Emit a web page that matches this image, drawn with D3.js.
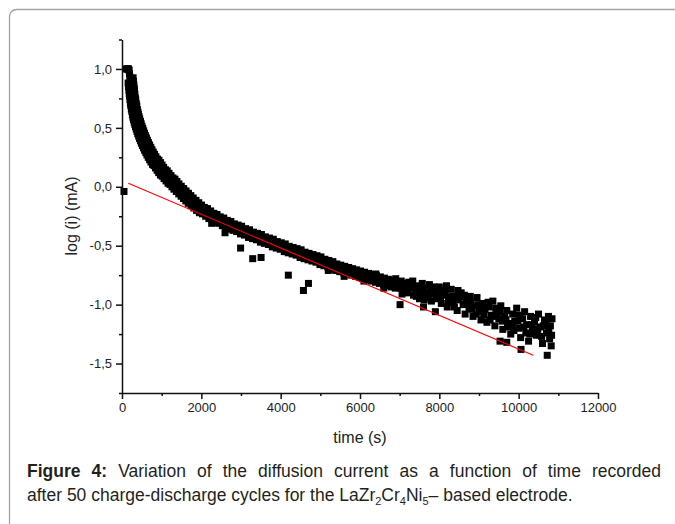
<!DOCTYPE html>
<html><head><meta charset="utf-8">
<script src="https://cdn.jsdelivr.net/npm/d3@7"></script>
<style>body{margin:0;background:#fff;} svg{display:block;font-family:"Liberation Sans",Arial,sans-serif;}</style>
</head><body>
<svg id="c" width="675" height="524"></svg>
<script>
// ---- tick labels ----
const xTicks = [0, 2000, 4000, 6000, 8000, 10000, 12000];
const xMinorTicks = [1000, 3000, 5000, 7000, 9000, 11000];
const yTicks = [-1.5, -1.0, -0.5, 0.0, 0.5, 1.0];
const yMinorTicks = [-1.75, -1.25, -0.75, -0.25, 0.25, 0.75, 1.25];
const xTitle = "time (s)";
const yTitle = "log (i) (mA)";

// ---- measured data: core band ----
const timeCore = [50,110,130,150,165,180,190,200,205,215,225,232,240,250,262,272,285,298,312,326,340,356,372,390,408,428,448,470,492,515,540,565,592,620,650,680,712,745,780,818,856,895,935,975,1020,1065,1110,1160,1210,1260,1310,1360,1420,1480,1540,1600,1660,1720,1790,1860,1930,2000,2080,2160,2240,2320,2400,2490,2580,2670,2760,2850,2940,3040,3140,3240,3340,3440,3540,3640,3740,3840,3940,4040,4140,4240,4340,4440,4540,4640,4740,4840,4940,5040,5140,5240,5340,5440,5540,5640,5740,5840,5940,6040,6140,6240,6340,6440,6540,6640,6740,6840,6940];
const logICore = [-0.04,1.00,1.00,1.00,1.00,0.99,0.96,0.93,0.90,0.87,0.84,0.81,0.79,0.76,0.73,0.71,0.68,0.66,0.63,0.61,0.59,0.57,0.55,0.53,0.51,0.49,0.47,0.45,0.43,0.41,0.39,0.37,0.35,0.33,0.31,0.29,0.27,0.25,0.23,0.21,0.20,0.18,0.16,0.14,0.12,0.11,0.09,0.07,0.05,0.04,0.02,0.00,-0.02,-0.04,-0.06,-0.08,-0.10,-0.12,-0.14,-0.16,-0.18,-0.20,-0.21,-0.23,-0.25,-0.26,-0.28,-0.29,-0.31,-0.32,-0.34,-0.35,-0.36,-0.38,-0.39,-0.41,-0.42,-0.43,-0.45,-0.46,-0.47,-0.49,-0.50,-0.51,-0.53,-0.54,-0.55,-0.56,-0.58,-0.59,-0.60,-0.61,-0.62,-0.64,-0.65,-0.66,-0.68,-0.69,-0.70,-0.71,-0.72,-0.73,-0.74,-0.75,-0.76,-0.77,-0.78,-0.79,-0.80,-0.81,-0.82,-0.83,-0.84];

// ---- band edge points ----
const timeEdge = [280,165,300,182,315,200,337,222,360,248,387,276,415,306,447,340,483,378,523,420,567,465,615,515,667,570,725,630,787,695,855,768,931,845,1010,925,1095,1015,1185,1110,1285,1210,1385,1310,1495,1430,1615,1550,1735,1670,1865,1810,2005,1950,2155,2110,2315,2270,2475,2440,2655,2620,2835,2800,3015,2990,3215,3190,3415,3390,3615,3590,3815,3790,4015,3990,4215,4190,4415,4390,4615,4590,4815,4790,5015,4990,5215,5190,5415,5390,5615,5590,5815,5790,6015,5990,6215,6190,6415,6390,6615,6590,6815,6790,7015];
const logIEdge = [0.925,0.85,0.865,0.79,0.815,0.74,0.755,0.69,0.705,0.64,0.655,0.59,0.615,0.55,0.575,0.51,0.535,0.47,0.495,0.43,0.455,0.39,0.415,0.35,0.375,0.31,0.335,0.27,0.295,0.23,0.255,0.19,0.225,0.16,0.185,0.12,0.145,0.09,0.115,0.05,0.075,0.02,0.045,-0.02,0.005,-0.06,-0.035,-0.10,-0.075,-0.14,-0.115,-0.18,-0.155,-0.22,-0.185,-0.25,-0.225,-0.28,-0.255,-0.31,-0.285,-0.34,-0.315,-0.37,-0.335,-0.40,-0.365,-0.43,-0.395,-0.45,-0.425,-0.48,-0.445,-0.51,-0.475,-0.53,-0.505,-0.56,-0.525,-0.58,-0.555,-0.61,-0.575,-0.63,-0.595,-0.66,-0.625,-0.68,-0.655,-0.71,-0.675,-0.73,-0.695,-0.75,-0.715,-0.77,-0.735,-0.79,-0.755,-0.81,-0.775,-0.83,-0.795,-0.85,-0.815];

// ---- second band edge [time, logI] ----
const edge2Points = [[155,0.88],[290,0.895],[175,0.82],[307,0.835],[190,0.77],[325,0.785],[212,0.71],[347,0.735],[235,0.66],[373,0.685],[262,0.61],[401,0.635],[290,0.57],[431,0.595],[322,0.53],[465,0.555],[358,0.49],[503,0.515],[398,0.45],[545,0.475],[442,0.41],[590,0.435],[490,0.37],[640,0.395],[542,0.33],[695,0.355],[600,0.29],[755,0.315],[662,0.25],[820,0.275],[730,0.21],[893,0.235],[806,0.18],[970,0.205],[885,0.14],[1050,0.165],[970,0.10],[1140,0.135],[1060,0.07],[1235,0.095],[1160,0.03],[1335,0.065],[1260,0.00],[1435,0.025],[1370,-0.04],[1555,-0.015],[1490,-0.08],[1675,-0.055],[1610,-0.12],[1795,-0.095],[1740,-0.16],[1935,-0.135],[1880,-0.20],[2075,-0.175],[2030,-0.23],[2235,-0.205],[2190,-0.27],[2395,-0.235],[2350,-0.30],[2565,-0.265],[2530,-0.33],[2745,-0.295],[2710,-0.36],[2925,-0.325],[2890,-0.38],[3115,-0.355],[3090,-0.41],[3315,-0.385],[3290,-0.44],[3515,-0.405],[3490,-0.47],[3715,-0.435],[3690,-0.49],[3915,-0.465],[3890,-0.52],[4115,-0.485],[4090,-0.55],[4315,-0.515],[4290,-0.57],[4515,-0.535],[4490,-0.60],[4715,-0.565],[4690,-0.62],[4915,-0.585],[4890,-0.64],[5115,-0.615],[5090,-0.67],[5315,-0.635],[5290,-0.70],[5515,-0.665],[5490,-0.72],[5715,-0.685],[5690,-0.74],[5915,-0.705],[5890,-0.76],[6115,-0.725],[6090,-0.78],[6315,-0.745],[6290,-0.80],[6515,-0.765],[6490,-0.82],[6715,-0.785],[6690,-0.84],[6915,-0.805],[6890,-0.86]];

// ---- noisy tail [time, logI] ----
const tailPoints = [[7000,-0.84],[7040,-0.80],[7080,-0.88],[7120,-0.85],[7160,-0.82],[7200,-0.90],[7250,-0.86],[7300,-0.83],[7350,-0.92],[7400,-0.87],[7450,-0.84],[7500,-0.95],[7550,-0.89],[7600,-0.86],[7650,-0.93],[7700,-0.90],[7750,-0.83],[7800,-0.97],[7850,-0.91],[7900,-0.88],[7950,-0.95],[8000,-0.85],[8050,-0.99],[8100,-0.92],[8150,-0.89],[8200,-1.02],[8250,-0.94],[8300,-0.87],[8350,-0.98],[8400,-0.93],[8450,-1.05],[8500,-0.96],[8550,-0.90],[8600,-1.00],[8650,-1.08],[8700,-0.95],[8750,-1.03],[8800,-0.98],[8850,-1.10],[8900,-1.01],[8950,-0.94],[9000,-1.06],[9050,-1.13],[9100,-0.99],[9150,-1.04],[9200,-1.15],[9250,-1.02],[9300,-1.09],[9350,-0.97],[9400,-1.18],[9450,-1.07],[9500,-1.12],[9550,-1.01],[9600,-1.21],[9650,-1.10],[9700,-1.05],[9750,-1.16],[9800,-1.25],[9850,-1.08],[9900,-1.14],[9950,-1.03],[10000,-1.20],[10050,-1.28],[10100,-1.12],[10150,-1.06],[10200,-1.17],[10250,-1.31],[10300,-1.10],[10350,-1.22],[10400,-1.15],[10450,-1.26],[10500,-1.08],[10550,-1.19],[10600,-1.33],[10650,-1.13],[10700,-1.24],[10750,-1.10],[10780,-1.29],[10800,-1.18],[10820,-1.35],[10840,-1.12],
[7020,-0.86],[7180,-0.88],[7330,-0.80],[7480,-0.90],[7620,-0.96],[7780,-0.88],[7920,-0.92],[8070,-0.88],[8230,-0.97],[8380,-1.02],[8520,-0.93],[8680,-0.98],[8820,-1.04],[8980,-1.00],[9120,-1.09],[9280,-1.13],[9420,-1.03],[9580,-1.14],[9720,-1.19],[9880,-1.22],[10020,-1.09],[10180,-1.24],[10330,-1.17],[10480,-1.21],[10620,-1.18],[10760,-1.22],
[7060,-0.91],[7230,-0.81],[7420,-0.93],[7570,-0.82],[7720,-0.94],[7870,-0.85],[8030,-0.94],[8180,-0.84],[8330,-0.93],[8470,-0.88],[8630,-0.92],[8780,-0.93],[8930,-1.08],[9080,-1.02],[9230,-0.98],[9380,-1.10],[9530,-1.06],[9680,-1.13],[9830,-1.18],[9980,-1.14],[10130,-1.19],[10280,-1.25],[10430,-1.11],[10580,-1.27],[10690,-1.16],[10830,-1.26]];

// ---- scattered points below band [time, logI] ----
const outlierPoints = [[2261,-0.31],[2597,-0.39],[2990,-0.52],[3295,-0.61],[3506,-0.60],[4193,-0.75],[4574,-0.88],[4700,-0.82],[5200,-0.71],[5600,-0.76],[6100,-0.80],[6400,-0.74],[6600,-0.86],[6900,-0.78],[7010,-1.00],[7600,-1.02],[7900,-1.06],[9530,-1.31],[9700,-1.32],[10060,-1.38],[10720,-1.43]];

// ---- linear fit (red) ----
const fitTime = [160, 10370];
const fitLogI = [0.03, -1.43];

const captionBold = "Figure 4:";
const captionLine1 = " Variation of the diffusion current as a function of time recorded";

// ================= drawing =================
const svg = d3.select("#c");
svg.append("rect").attr("x",9.5).attr("y",9.5).attr("width",720).attr("height",620)
  .attr("rx",7).attr("fill","none").attr("stroke","#a3a3a3").attr("stroke-width",1.3);

const x = d3.scaleLinear().domain([0,12000]).range([122,598]);
const y = d3.scaleLinear().domain([-1.75,1.25]).range([393,39.5]);

const fmtY = d => (d < 0 ? "-" : "") + Math.abs(d).toFixed(1).replace(".", ",");

const pts = [];
timeCore.forEach((t,i)=>pts.push([t, logICore[i]]));
timeEdge.forEach((t,i)=>pts.push([t, logIEdge[i]]));
edge2Points.forEach(p=>pts.push(p));
tailPoints.forEach(p=>pts.push(p));
outlierPoints.forEach(p=>pts.push(p));

const sq = 7;
svg.append("g").selectAll("rect").data(pts).join("rect")
  .attr("x", d => x(d[0]) - sq/2).attr("y", d => y(d[1]) - sq/2)
  .attr("width", sq).attr("height", sq).attr("fill", "#000");

svg.append("path")
  .datum(fitTime.map((t,i)=>[t, fitLogI[i]]))
  .attr("d", d3.line().x(d=>x(d[0])).y(d=>y(d[1])))
  .attr("stroke", "#ff0000").attr("stroke-width", 1.1).attr("fill", "none");

// axes
function styleAxis(g){
  g.selectAll("path,line").attr("stroke","#111").attr("stroke-width",1.5);
  g.selectAll("text").attr("fill","#222").style("font-size","13px").style("font-family",'"Liberation Sans",Arial,sans-serif');
}
const gxm = svg.append("g").attr("transform","translate(0,393)")
  .call(d3.axisBottom(x).tickValues(xMinorTicks).tickSize(3).tickFormat(""));
gxm.select(".domain").remove(); styleAxis(gxm);
const gx = svg.append("g").attr("transform","translate(0,393)")
  .call(d3.axisBottom(x).tickValues(xTicks).tickSize(6).tickSizeOuter(0).tickPadding(4).tickFormat(d3.format("d")));
styleAxis(gx);

const gym = svg.append("g").attr("transform","translate(122,0)")
  .call(d3.axisLeft(y).tickValues(yMinorTicks).tickSize(3).tickFormat(""));
gym.select(".domain").remove(); styleAxis(gym);
const gy = svg.append("g").attr("transform","translate(122,0)")
  .call(d3.axisLeft(y).tickValues(yTicks).tickSize(6).tickSizeOuter(0).tickPadding(4).tickFormat(fmtY));
styleAxis(gy);

svg.append("text").attr("x",360).attr("y",443).attr("text-anchor","middle")
  .attr("fill","#222").style("font-size","16px").text(xTitle);
svg.append("text").attr("transform","translate(77,216) rotate(-90)").attr("text-anchor","middle")
  .attr("fill","#222").style("font-size","16px").text(yTitle);

// caption
const capSize = "17.5px", subSize = "11px";
const cap1 = svg.append("text").attr("x",27).attr("y",477).attr("fill","#231f20").style("font-size",capSize);
cap1.append("tspan").attr("font-weight","bold").text(captionBold);
cap1.append("tspan").text(captionLine1);
const natural = cap1.node().getComputedTextLength();
const nSpaces = (captionBold + captionLine1).split(" ").length - 1;
cap1.attr("word-spacing", ((634 - natural) / nSpaces).toFixed(2));

const cap2 = svg.append("text").attr("x",27).attr("y",501).attr("fill","#231f20").style("font-size",capSize);
cap2.append("tspan").text("after 50 charge-discharge cycles for the LaZr");
cap2.append("tspan").attr("dy",4).style("font-size",subSize).text("2");
cap2.append("tspan").attr("dy",-4).text("Cr");
cap2.append("tspan").attr("dy",4).style("font-size",subSize).text("4");
cap2.append("tspan").attr("dy",-4).text("Ni");
cap2.append("tspan").attr("dy",4).style("font-size",subSize).text("5");
cap2.append("tspan").attr("dy",-4).text("– based electrode.");
</script>
</body></html>
